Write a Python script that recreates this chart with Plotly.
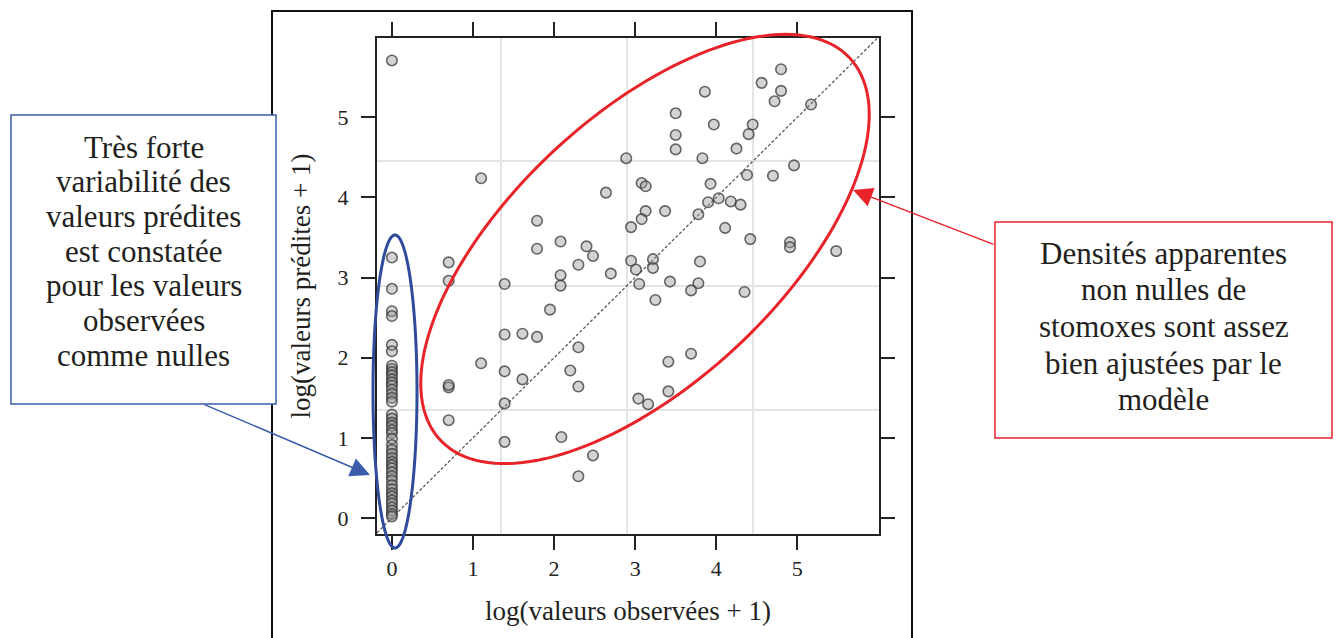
import numpy as np
import plotly.graph_objects as go

# ---------------- data ----------------
# observed log(values+1) == 0 : predicted values
zero_pred = [5.71, 3.25, 2.86, 2.58, 2.52, 2.16, 2.08, 1.90, 1.86, 1.82, 1.78, 1.73,
             1.69, 1.65, 1.60, 1.55, 1.50, 1.45, 1.29, 1.24, 1.19, 1.15, 1.10, 1.06,
             0.99, 0.91, 0.85, 0.80, 0.75, 0.70, 0.66, 0.62, 0.57, 0.52, 0.47, 0.41,
             0.36, 0.31, 0.27, 0.22, 0.18, 0.13, 0.09, 0.05, 0.02]

# non-zero observations
obs = [1.10, 0.70, 0.70, 1.39, 1.79, 1.79, 2.08, 2.40, 2.48, 2.30, 2.08, 2.08, 2.70,
       1.95, 1.39, 1.61, 1.79, 2.30, 2.64, 2.89, 3.08, 3.13, 3.13, 3.08, 2.95, 2.95,
       3.01, 3.05, 3.22, 3.22,
       1.10, 1.39, 1.61, 0.70, 0.70, 0.70, 1.39, 1.39, 2.20, 2.30, 2.09, 2.48, 2.30,
       3.04, 3.16,
       4.80, 4.56, 4.80, 4.72, 5.17, 3.86, 3.50, 3.50, 3.50, 3.97, 4.45, 4.40, 4.25,
       3.83, 4.96, 4.38, 4.70, 3.93, 4.03, 3.90, 4.18, 4.30, 3.78, 3.37, 4.11, 4.42,
       4.91, 4.91, 5.48,
       3.80, 3.43, 3.78, 3.69, 4.35, 3.25, 3.41, 3.69, 3.41]
pred = [4.24, 3.19, 2.96, 2.92, 3.71, 3.36, 3.45, 3.39, 3.27, 3.16, 3.03, 2.90, 3.05,
        2.60, 2.29, 2.30, 2.26, 2.13, 4.06, 4.49, 4.18, 4.14, 3.83, 3.73, 3.63, 3.21,
        3.10, 2.92, 3.23, 3.12,
        1.93, 1.83, 1.73, 1.63, 1.66, 1.22, 1.43, 0.95, 1.84, 1.64, 1.01, 0.78, 0.52,
        1.49, 1.42,
        5.60, 5.43, 5.33, 5.20, 5.16, 5.32, 5.05, 4.78, 4.60, 4.91, 4.91, 4.79, 4.61,
        4.49, 4.40, 4.28, 4.27, 4.17, 3.99, 3.94, 3.95, 3.91, 3.79, 3.83, 3.62, 3.48,
        3.44, 3.38, 3.33,
        3.20, 2.95, 2.93, 2.84, 2.82, 2.72, 1.95, 2.05, 1.58]

x_ticks = [0, 1, 2, 3, 4, 5]
y_ticks = [0, 1, 2, 3, 4, 5]
grid_vals = [1.35, 2.90, 4.45]
x_range = [-0.184, 6.008]
y_range = [-0.20, 5.99]

x_title = "log(valeurs observées + 1)"
y_title = "log(valeurs prédites + 1)"
blue_lines = ["Très forte", "variabilité des", "valeurs prédites", "est constatée",
              "pour les valeurs", "observées", "comme nulles"]
red_lines = ["Densités apparentes", "non nulles de", "stomoxes sont assez",
             "bien ajustées par le", "modèle"]

# ---------------- layout geometry (pixels) ----------------
W_PX, H_PX = 1337, 638
L, R, T, B = 377, 879, 38, 534
PW, PH = R - L, B - T


def px(xp):
    return (xp - L) / PW


def py(yp):
    return (B - yp) / PH


def ellipse_path(cx, cy, a, b, ang_deg, n=160):
    t = np.linspace(0, 2 * np.pi, n)
    th = np.radians(ang_deg)
    ex = cx + a * np.cos(t) * np.cos(th) - b * np.sin(t) * np.sin(th)
    ey = cy - (a * np.cos(t) * np.sin(th) + b * np.sin(t) * np.cos(th))
    pts = [f"{px(u):.5f},{py(v):.5f}" for u, v in zip(ex, ey)]
    return "M " + " L ".join(pts) + " Z"


SERIF = "Liberation Serif, Times New Roman, serif"
INK = "#231f20"
BLUE = "#2f4b9c"
RED = "#e8232a"

fig = go.Figure()

# reference line y = x across the panel
fig.add_trace(go.Scatter(x=x_range, y=x_range, mode="lines",
                         line=dict(color="#5a5a5a", width=1.3, dash="3px,2px"),
                         hoverinfo="skip", showlegend=False))

marker = dict(size=10.5, color="rgba(150,150,150,0.42)",
              line=dict(color="rgba(55,55,55,0.75)", width=1.6))
fig.add_trace(go.Scatter(x=[0] * len(zero_pred), y=zero_pred, mode="markers",
                         marker=marker, showlegend=False))
fig.add_trace(go.Scatter(x=obs, y=pred, mode="markers",
                         marker=marker, showlegend=False))

axis_common = dict(
    showline=True, linewidth=2, linecolor="#222", mirror="ticks",
    ticks="outside", ticklen=14, tickwidth=2, tickcolor="#222",
    showgrid=False, zeroline=False, automargin=False,
    tickfont=dict(family=SERIF, size=22, color="#222"),
    minor=dict(tickmode="array", tickvals=grid_vals, showgrid=True,
               gridcolor="#e4e4e4", gridwidth=1.5, ticks=""),
)

fig.update_layout(
    width=W_PX, height=H_PX,
    margin=dict(l=L, r=W_PX - R, t=T, b=H_PX - B, autoexpand=False),
    paper_bgcolor="white", plot_bgcolor="white",
    xaxis=dict(range=x_range, tickmode="array", tickvals=x_ticks,
               title=dict(text=x_title, font=dict(family=SERIF, size=27, color=INK),
                          standoff=21),
               **axis_common),
    yaxis=dict(range=y_range, tickmode="array", tickvals=y_ticks,
               ticklabelstandoff=8,
               title=dict(text=y_title, font=dict(family=SERIF, size=27, color=INK),
                          standoff=19),
               **axis_common),
)

shapes = [
    # outer figure frame
    dict(type="rect", xref="paper", yref="paper", x0=px(272), x1=px(912),
         y0=py(11), y1=py(670), line=dict(color="#111", width=2), layer="below"),
    # blue ellipse around x = 0 column
    dict(type="path", xref="paper", yref="paper",
         path=ellipse_path(395, 391.5, 22, 156.5, 0), line=dict(color=BLUE, width=3)),
    # red ellipse around non-zero observations
    dict(type="path", xref="paper", yref="paper",
         path=ellipse_path(645, 249, 280, 134, 43), line=dict(color=RED, width=3)),
    # callout boxes
    dict(type="rect", xref="paper", yref="paper", x0=px(11), x1=px(276),
         y0=py(115), y1=py(404), fillcolor="white",
         line=dict(color="#3b5bab", width=1.5)),
    dict(type="rect", xref="paper", yref="paper", x0=px(995), x1=px(1332),
         y0=py(222), y1=py(438), fillcolor="white",
         line=dict(color=RED, width=1.5)),
]
fig.update_layout(shapes=shapes)

annotations = []
for i, txt in enumerate(blue_lines):
    annotations.append(dict(text=txt, xref="paper", yref="paper",
                            x=px(143.5), y=py(147 + i * 34.7),
                            xanchor="center", yanchor="middle", showarrow=False,
                            font=dict(family=SERIF, size=31, color=INK)))
for i, txt in enumerate(red_lines):
    annotations.append(dict(text=txt, xref="paper", yref="paper",
                            x=px(1163.5), y=py(253 + i * 36.7),
                            xanchor="center", yanchor="middle", showarrow=False,
                            font=dict(family=SERIF, size=31, color=INK)))
# arrows
annotations.append(dict(text="", xref="paper", yref="paper", x=px(370), y=py(475),
                        ax=203 - 370, ay=404 - 475, showarrow=True, arrowhead=2,
                        arrowsize=2.6, arrowwidth=1.5, arrowcolor="#3b5bab"))
annotations.append(dict(text="", xref="paper", yref="paper", x=px(853), y=py(190),
                        ax=995 - 853, ay=245 - 190, showarrow=True, arrowhead=2,
                        arrowsize=2.6, arrowwidth=1.5, arrowcolor=RED))
fig.update_layout(annotations=annotations)

fig.write_html("out.html")
